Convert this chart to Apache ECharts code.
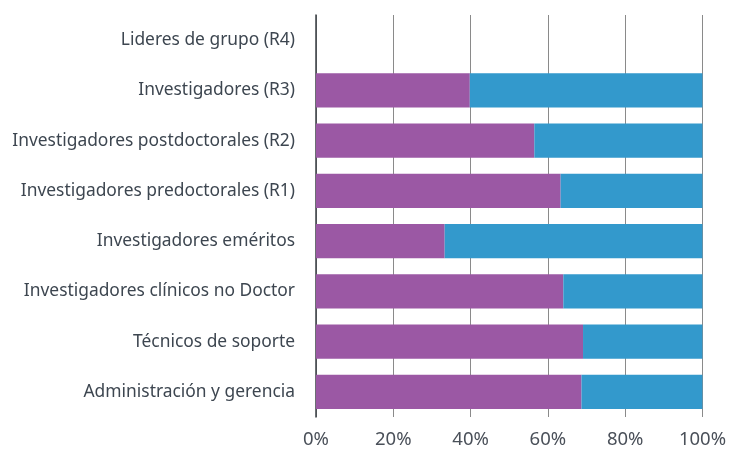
<!DOCTYPE html>
<html>
<head>
<meta charset="utf-8">
<script src="https://cdn.jsdelivr.net/npm/echarts@6/dist/echarts.min.js"></script>
<style>
  html, body { margin: 0; padding: 0; background: #fff; }
  #chart { width: 729px; height: 450px; }
</style>
</head>
<body>
<div id="chart"></div>
<script>
// categorias de arriba abajo
var categories = [
  "Lideres de grupo (R4)",
  "Investigadores (R3)",
  "Investigadores postdoctorales (R2)",
  "Investigadores predoctorales (R1)",
  "Investigadores eméritos",
  "Investigadores clínicos no Doctor",
  "Técnicos de soporte",
  "Administración y gerencia"
];
// porcentaje de cada serie
var purpleValues = [0, 39.8, 56.5, 63.3, 33.3, 64.0, 69.1, 68.7];
var blueValues = [0, 60.2, 43.5, 36.7, 66.7, 36.0, 30.9, 31.3];
var tickLabels = ["0%", "20%", "40%", "60%", "80%", "100%"];

var chart = echarts.init(document.getElementById("chart"));
var font = "'Noto Sans', sans-serif";

chart.setOption({
  animation: false,
  grid: { left: 316, right: 26, top: 15, bottom: 33 },
  xAxis: {
    type: "value",
    min: 0,
    max: 100,
    interval: 20,
    axisLine: { show: false },
    axisTick: { show: false },
    splitLine: { lineStyle: { color: "#8a8a8a", width: 1 } },
    axisLabel: {
      color: "#4a5059",
      fontSize: 18.5,
      fontFamily: font,
      margin: 13,
      formatter: function (v) { return tickLabels[v / 20]; }
    }
  },
  yAxis: {
    type: "category",
    inverse: true,
    data: categories,
    axisLine: { lineStyle: { color: "#3a3f44", width: 1.5 } },
    axisTick: { show: false },
    axisLabel: {
      color: "#3d4650",
      fontSize: 17.4,
      fontFamily: font,
      margin: 21
    }
  },
  series: [
    {
      type: "bar",
      stack: "total",
      data: purpleValues,
      barCategoryGap: "32%",
      itemStyle: { color: "#9b58a4" }
    },
    {
      type: "bar",
      stack: "total",
      data: blueValues,
      itemStyle: { color: "#3399cc" }
    }
  ]
});
</script>
</body>
</html>
